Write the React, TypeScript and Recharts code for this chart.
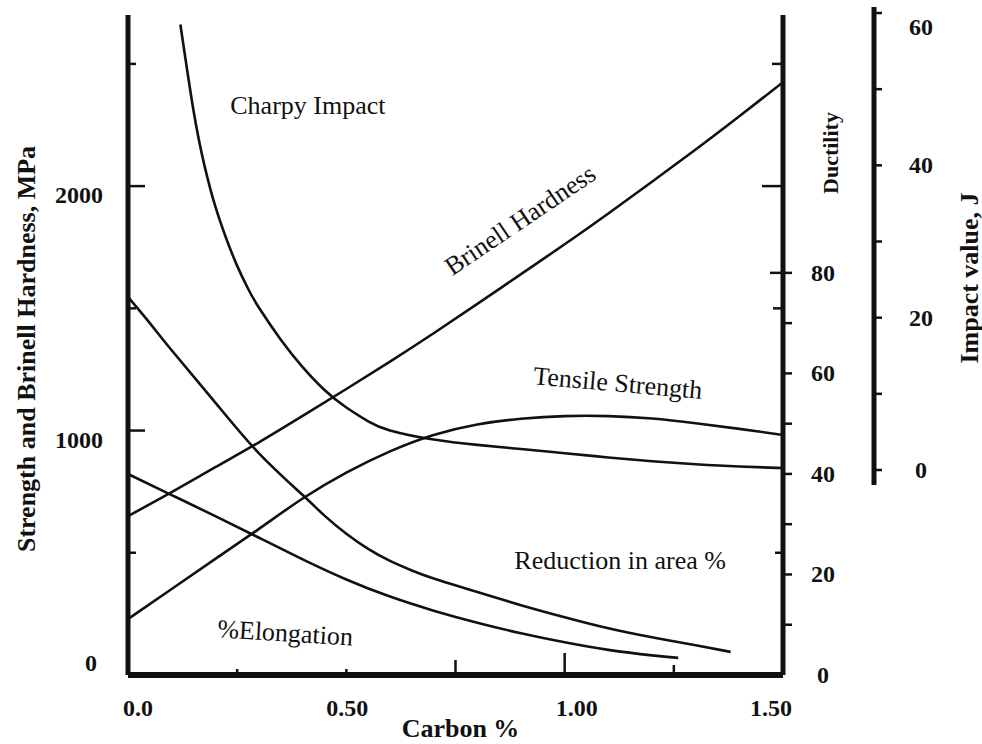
import React from 'react';
import { ComposedChart, Line, XAxis, YAxis, ReferenceDot } from 'recharts';

const FONT = "'Liberation Serif', 'Times New Roman', Times, serif";
const INK = '#111';
const PLOT_W = 655;
// the impact-axis chart has its plot area reaching the impact axis (91px further right)
const IMPACT_PLOT_W = PLOT_W + 91;

// ---- data ----
// strength curves (MPa) on a common carbon grid
const carbonStrength = [0, 0.1, 0.2, 0.3, 0.4, 0.5, 0.6, 0.7, 0.8, 0.9, 1.0, 1.1, 1.2, 1.3, 1.4, 1.5];
const brinellHardness = [650, 748, 850, 952, 1060, 1170, 1282, 1398, 1518, 1640, 1762, 1888, 2018, 2150, 2286, 2425];
const tensileStrength = [229, 352, 475, 598, 722, 828, 915, 982, 1025, 1048, 1059, 1059, 1049, 1030, 1007, 982];

// ductility curves (%)
const carbonReduction = [0, 0.05, 0.1, 0.2, 0.3, 0.4, 0.45, 0.5, 0.55, 0.6, 0.65, 0.7, 0.8, 0.9, 1.0, 1.1, 1.2, 1.3, 1.38];
const reductionInArea = [75.2, 70.0, 64.6, 54.2, 44.1, 35.8, 31.7, 28.1, 25.1, 22.7, 20.8, 19.2, 16.5, 13.9, 11.5, 9.3, 7.5, 5.9, 4.6];

const carbonElongation = [0, 0.1, 0.2, 0.3, 0.4, 0.5, 0.6, 0.7, 0.8, 0.9, 1.0, 1.1, 1.2, 1.26];
const elongation = [40.0, 35.8, 31.6, 27.3, 23.0, 19.0, 15.6, 12.8, 10.4, 8.3, 6.5, 5.0, 3.9, 3.4];

// Charpy impact (J)
const carbonCharpy = [0.12, 0.15, 0.175, 0.2, 0.225, 0.25, 0.275, 0.3, 0.35, 0.4, 0.45, 0.5, 0.55, 0.6, 0.7, 0.8, 0.9, 1.0, 1.1, 1.2, 1.3, 1.4, 1.5];
const charpyImpact = [58.5, 47.2, 40.0, 34.6, 30.4, 26.8, 23.8, 21.3, 17.1, 13.5, 10.5, 8.2, 6.4, 5.2, 4.0, 3.3, 2.75, 2.2, 1.65, 1.15, 0.75, 0.45, 0.26];

// ticks
const xTicks = [0, 0.25, 0.5, 0.75, 1.0, 1.25, 1.5];
const xTickLabels = ['0.0', '', '0.50', '', '1.00', '', '1.50'];
const strengthTicks = [0, 500, 1000, 1500, 2000, 2500];
const strengthTickLabels = ['0', '', '1000', '', '2000', ''];
const ductilityTicks = [0, 10, 20, 30, 40, 50, 60, 70, 80];
const ductilityTickLabels = ['0', '', '20', '', '40', '', '60', '', '80'];
const impactTicks = [0, 10, 20, 30, 40, 50, 60];
const impactTickLabels = ['0', '', '20', '', '40', '', '60'];

// annotations (position in carbon % / MPa)
const annotationTexts = ['Charpy Impact', 'Brinell Hardness', 'Tensile Strength', 'Reduction in area %', '%Elongation'];
const annotationCarbon = [0.412, 0.898, 1.122, 1.127, 0.36];
const annotationMPa = [2331, 1861, 1194, 470, 172];
const annotationAngle = [0, -34, 5, 0, 3.5];

const rows = (xs: number[], ys: number[]) => xs.map((c, i) => ({ c, v: ys[i] }));
const brinellRows = rows(carbonStrength, brinellHardness);
const tensileRows = rows(carbonStrength, tensileStrength);
const reductionRows = rows(carbonReduction, reductionInArea);
const elongationRows = rows(carbonElongation, elongation);
const charpyRows = rows(carbonCharpy, charpyImpact);

// ---- styles for ticks ----
const bottomTickLen: Record<string, number> = { '0.25': 6, '0.5': 6, '0.75': 15, '1': 22, '1.25': 10 };
const topTickLen: Record<string, number> = { '0.25': 10, '0.5': 26, '0.75': 12, '1': 26, '1.25': 8 };
const xLabelDx: Record<string, number> = { '0': 10, '0.5': 1, '1': 12, '1.5': -12 };
const leftTickLen: Record<string, number> = { '500': 8, '1000': 17, '1500': 8, '2000': 17, '2500': 8 };
const rightBorderTickLen: Record<string, number> = { '500': 8, '1000': 0, '1500': 10, '2000': 21, '2500': 11 };

const tickText = (x: number, y: number, label: string, anchor: string) => (
  <text x={x} y={y} textAnchor={anchor} dominantBaseline="central" fontFamily={FONT} fontWeight="bold" fontSize={24} fill={INK}>
    {label}
  </text>
);

const BottomTick = (p: any) => {
  const v = p.payload.value;
  const k = String(v);
  const len = bottomTickLen[k] || 0;
  const label = xTickLabels[xTicks.indexOf(v)] || '';
  return (
    <g>
      {len > 0 && <line x1={p.x} x2={p.x} y1={p.y} y2={p.y - len} stroke={INK} strokeWidth={2.5} />}
      {label && tickText(p.x + (xLabelDx[k] || 0), p.y + 33, label, 'middle')}
    </g>
  );
};

const TopTick = (p: any) => {
  const len = topTickLen[String(p.payload.value)] || 0;
  return <g>{len > 0 && <line x1={p.x} x2={p.x} y1={p.y} y2={p.y + len} stroke={INK} strokeWidth={2.5} />}</g>;
};

const LeftTick = (p: any) => {
  const v = p.payload.value;
  const k = String(v);
  const len = leftTickLen[k] || 0;
  const rlen = rightBorderTickLen[k] || 0;
  const label = strengthTickLabels[strengthTicks.indexOf(v)] || '';
  const isZero = v === 0;
  return (
    <g>
      {len > 0 && <line x1={p.x} x2={p.x + len} y1={p.y} y2={p.y} stroke={INK} strokeWidth={2.5} />}
      {rlen > 0 && <line x1={p.x + PLOT_W - rlen} x2={p.x + PLOT_W} y1={p.y} y2={p.y} stroke={INK} strokeWidth={2.5} />}
      {label && tickText(p.x - (isZero ? 31 : 25), p.y + (isZero ? -12 : 9), label, 'end')}
    </g>
  );
};

const DuctTick = (p: any) => {
  const v = p.payload.value;
  const label = ductilityTickLabels[ductilityTicks.indexOf(v)] || '';
  const inner = v === 80 ? 13 : 0;
  return (
    <g>
      {v > 0 && <line x1={p.x - inner} x2={p.x + 9} y1={p.y} y2={p.y} stroke={INK} strokeWidth={2.5} />}
      {label && tickText(p.x + 40, p.y, label, 'middle')}
    </g>
  );
};

const ImpactTick = (p: any) => {
  const v = p.payload.value;
  const label = impactTickLabels[impactTicks.indexOf(v)] || '';
  return (
    <g>
      <line x1={p.x} x2={p.x + 8} y1={p.y} y2={p.y} stroke={INK} strokeWidth={2.5} />
      {label && tickText(p.x + 47, p.y + (v === 60 ? 14 : 0), label, 'middle')}
    </g>
  );
};

const vTitle = (text: string, dx: number, dy: number, size: number) => (props: any) => {
  const vb = props.viewBox || {};
  const x = vb.x + dx;
  const y = vb.y + vb.height / 2 + dy;
  return (
    <text x={x} y={y} transform={`rotate(-90 ${x} ${y})`} textAnchor="middle" dominantBaseline="central" fontFamily={FONT} fontWeight="bold" fontSize={size} fill={INK}>
      {text}
    </text>
  );
};

const xTitle = (props: any) => {
  const vb = props.viewBox || {};
  return (
    <text x={vb.x + vb.width / 2 + 5} y={vb.y + 53} textAnchor="middle" dominantBaseline="central" fontFamily={FONT} fontWeight="bold" fontSize={26} fill={INK}>
      Carbon %
    </text>
  );
};

const annotationShape = (i: number) => (p: any) => (
  <text
    x={p.cx}
    y={p.cy}
    transform={`rotate(${annotationAngle[i]} ${p.cx} ${p.cy})`}
    textAnchor="middle"
    dominantBaseline="central"
    fontFamily={FONT}
    fontSize={26}
    fill={INK}
  >
    {annotationTexts[i]}
  </text>
);

const lineProps = {
  type: 'natural' as const,
  dataKey: 'v',
  stroke: INK,
  strokeWidth: 2.6,
  dot: false,
  activeDot: false,
  isAnimationActive: false,
  connectNulls: true,
};

export default function App() {
  return (
    <div style={{ position: 'absolute', left: 0, top: 0, width: 982, height: 744, background: '#fff' }}>
      <div style={{ position: 'absolute', left: 0, top: 0 }}>
        <ComposedChart width={982} height={744} margin={{ top: 15, right: 108, bottom: 0, left: 0 }}>
          <XAxis
            xAxisId="c"
            dataKey="c"
            type="number"
            domain={[0, 1.5]}
            allowDataOverflow
            ticks={xTicks}
            interval={0}
            height={69}
            tickSize={0}
            tickMargin={0}
            tickLine={false}
            axisLine={{ stroke: INK, strokeWidth: 6 }}
            tick={BottomTick}
            label={xTitle}
          />
          <XAxis
            xAxisId="top"
            orientation="top"
            dataKey="c"
            type="number"
            domain={[0, 1.5]}
            allowDataOverflow
            ticks={xTicks}
            interval={0}
            height={0}
            tickSize={0}
            tickMargin={0}
            tickLine={false}
            axisLine={{ stroke: INK, strokeWidth: 5 }}
            tick={TopTick}
          />
          <YAxis
            yAxisId="mpa"
            orientation="left"
            type="number"
            width={128}
            domain={[0, 2700]}
            allowDataOverflow
            ticks={strengthTicks}
            interval={0}
            tickSize={0}
            tickMargin={0}
            tickLine={false}
            axisLine={{ stroke: INK, strokeWidth: 5 }}
            tick={LeftTick}
            label={vTitle('Strength and Brinell Hardness, MPa', 26, 4, 26)}
          />
          <YAxis
            yAxisId="duct"
            orientation="right"
            type="number"
            width={91}
            domain={[0, 131.3]}
            allowDataOverflow
            ticks={ductilityTicks}
            interval={0}
            tickSize={0}
            tickMargin={0}
            tickLine={false}
            axisLine={{ stroke: INK, strokeWidth: 5 }}
            tick={DuctTick}
            label={vTitle('Ductility', 47, -192, 22)}
          />
          <Line {...lineProps} xAxisId="c" yAxisId="mpa" data={brinellRows} name="Brinell Hardness" />
          <Line {...lineProps} xAxisId="c" yAxisId="mpa" data={tensileRows} name="Tensile Strength" />
          <Line {...lineProps} xAxisId="c" yAxisId="duct" data={reductionRows} name="Reduction in area %" />
          <Line {...lineProps} xAxisId="c" yAxisId="duct" data={elongationRows} name="%Elongation" />
          {annotationTexts.map((t, i) => (
            <ReferenceDot
              key={t}
              xAxisId="c"
              yAxisId="mpa"
              x={annotationCarbon[i]}
              y={annotationMPa[i]}
              r={1}
              ifOverflow="visible"
              shape={annotationShape(i)}
            />
          ))}
        </ComposedChart>
      </div>
      <div style={{ position: 'absolute', left: 0, top: 0 }}>
        <ComposedChart width={982} height={744} margin={{ top: 7, right: 0, bottom: 259, left: 128 }}>
          <XAxis
            xAxisId="c"
            dataKey="c"
            type="number"
            domain={[0, (1.5 * IMPACT_PLOT_W) / PLOT_W]}
            allowDataOverflow
            hide
          />
          <YAxis
            yAxisId="impact"
            orientation="right"
            type="number"
            width={108}
            domain={[-1.97, 60.79]}
            allowDataOverflow
            ticks={impactTicks}
            interval={0}
            tickSize={0}
            tickMargin={0}
            tickLine={false}
            axisLine={{ stroke: INK, strokeWidth: 5 }}
            tick={ImpactTick}
            label={vTitle('Impact value, J', 95, 32, 26)}
          />
          <Line {...lineProps} xAxisId="c" yAxisId="impact" data={charpyRows} name="Charpy Impact" />
        </ComposedChart>
      </div>
    </div>
  );
}
